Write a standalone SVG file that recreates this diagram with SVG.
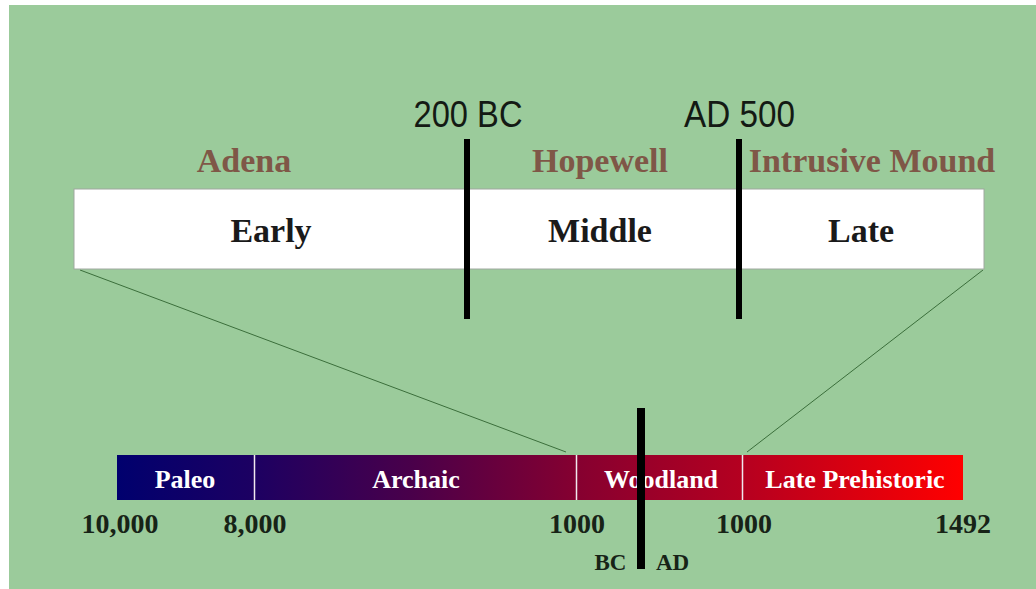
<svg xmlns="http://www.w3.org/2000/svg" width="1036" height="589" viewBox="0 0 1036 589">
<defs>
<linearGradient id="bar" x1="117" y1="0" x2="963" y2="0" gradientUnits="userSpaceOnUse">
<stop offset="0" stop-color="#00006e"/>
<stop offset="0.16" stop-color="#1c0062"/>
<stop offset="0.35" stop-color="#4a004a"/>
<stop offset="0.545" stop-color="#860030"/>
<stop offset="0.74" stop-color="#b50020"/>
<stop offset="1" stop-color="#ff0000"/>
</linearGradient>
<style>
.sans{font-family:"Liberation Sans",Arial,sans-serif;font-size:37px;fill:#141a14;text-anchor:middle}
.culture{font-family:"Liberation Serif","Times New Roman",serif;font-weight:bold;font-size:34px;fill:#7f5747;text-anchor:middle}
.period{font-family:"Liberation Serif","Times New Roman",serif;font-weight:bold;font-size:34px;fill:#1a1a1a;text-anchor:middle}
.seg{font-family:"Liberation Serif","Times New Roman",serif;font-weight:bold;font-size:26px;fill:#ffffff;text-anchor:middle}
.num{font-family:"Liberation Serif","Times New Roman",serif;font-weight:bold;font-size:28px;fill:#172317;text-anchor:middle}
.era{font-family:"Liberation Serif","Times New Roman",serif;font-weight:bold;font-size:23px;fill:#172317;text-anchor:middle}
.div{stroke:#f0e8ee;stroke-width:1.5}
.conn{stroke:#3b6e3b;stroke-width:1;fill:none}
</style>
</defs>
<rect x="0" y="0" width="1036" height="589" fill="#ffffff"/>
<rect x="9" y="5" width="1027" height="584" fill="#9bcb9b"/>
<g id="connectors">
<line class="conn" x1="80" y1="270" x2="566" y2="452"/>
<line class="conn" x1="983" y1="270" x2="747" y2="452"/>
</g>
<g id="period-box">
<rect x="74" y="189" width="910" height="80" fill="#ffffff" stroke="#a0a8a0" stroke-width="1"/>
<text class="period" x="271" y="242">Early</text>
<text class="period" x="600" y="242">Middle</text>
<text class="period" x="861" y="242">Late</text>
</g>
<g id="cultures">
<text class="culture" x="244" y="172">Adena</text>
<text class="culture" x="600" y="172">Hopewell</text>
<text class="culture" x="872" y="172">Intrusive Mound</text>
</g>
<g id="marker-200bc">
<rect x="464" y="139" width="6" height="180" fill="#000"/>
<text class="sans" x="468" y="127" textLength="109" lengthAdjust="spacingAndGlyphs">200 BC</text>
</g>
<g id="marker-ad500">
<rect x="736" y="139" width="6" height="180" fill="#000"/>
<text class="sans" x="739.5" y="127" textLength="111" lengthAdjust="spacingAndGlyphs">AD 500</text>
</g>
<g id="timeline">
<rect x="117" y="455" width="846" height="45" fill="url(#bar)"/>
<line class="div" x1="254.5" y1="455" x2="254.5" y2="500"/>
<line class="div" x1="576.5" y1="455" x2="576.5" y2="500"/>
<line class="div" x1="742.5" y1="455" x2="742.5" y2="500"/>
<text class="seg" x="185" y="488">Paleo</text>
<text class="seg" x="416" y="488">Archaic</text>
<text class="seg" x="661" y="488">Woodland</text>
<text class="seg" x="855" y="488">Late Prehistoric</text>
</g>
<g id="dates">
<text class="num" x="120" y="533">10,000</text>
<text class="num" x="255" y="533">8,000</text>
<text class="num" x="577" y="533">1000</text>
<text class="num" x="744" y="533">1000</text>
<text class="num" x="963" y="533">1492</text>
</g>
<g id="bc-ad">
<rect x="637" y="408" width="8" height="161" fill="#000"/>
<text class="era" x="610.5" y="570">BC</text>
<text class="era" x="672.5" y="570">AD</text>
</g>
</svg>
